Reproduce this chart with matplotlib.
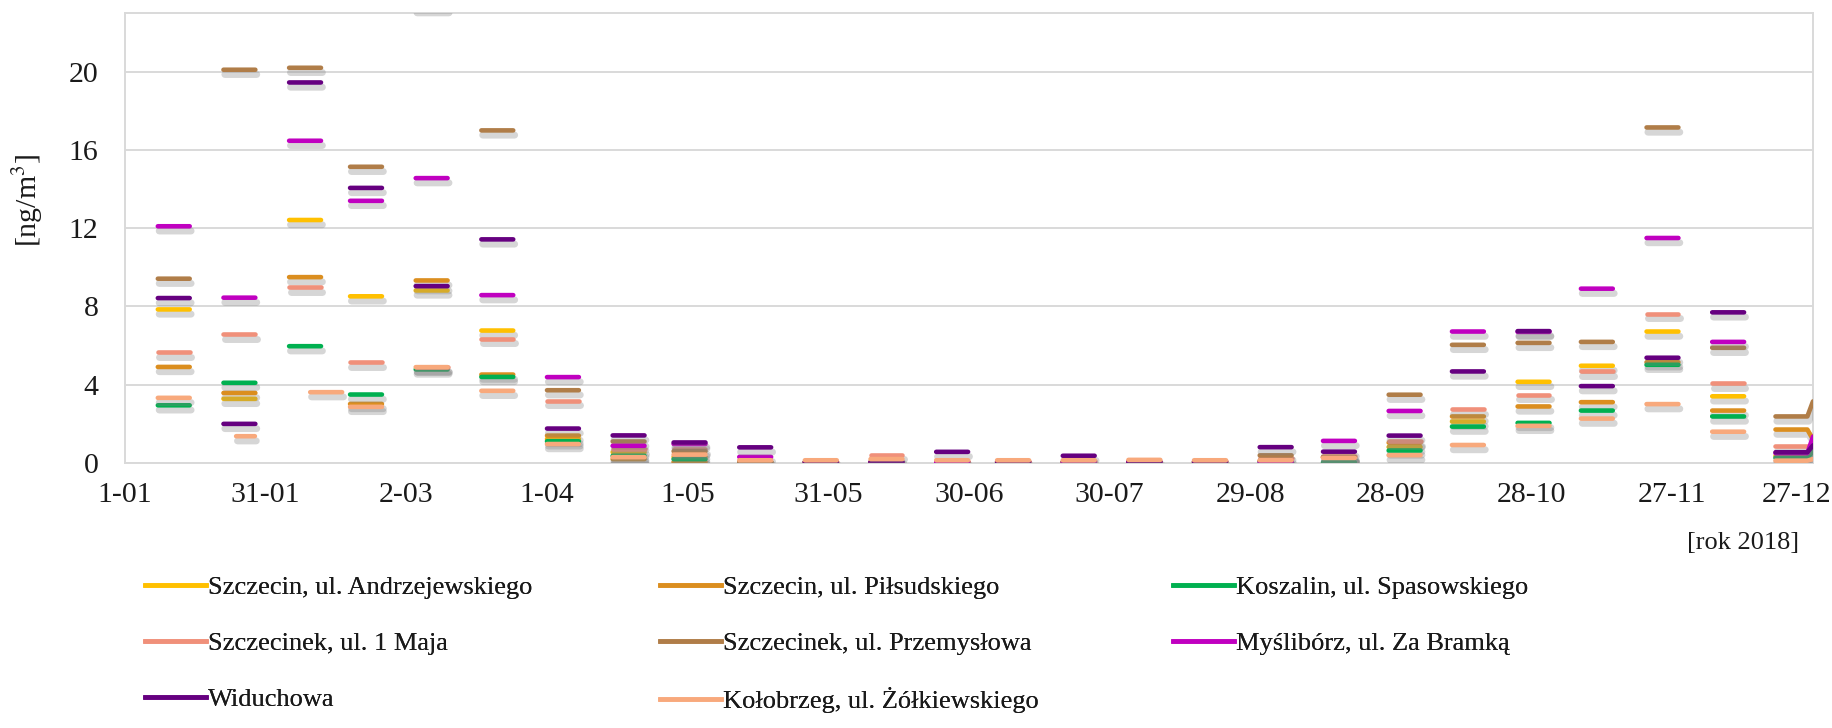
import matplotlib
matplotlib.use('Agg')
import matplotlib.pyplot as plt
import matplotlib.patheffects as pe
import matplotlib.transforms as mtransforms
from matplotlib.lines import Line2D
import numpy as np

plt.rcParams['font.family'] = ['Liberation Serif', 'DejaVu Serif']
plt.rcParams['mathtext.fontset'] = 'stix'

# x axis: days counted from 1 January 2018
tick_days = list(range(0, 361, 30))
tick_labels = ['1-01', '31-01', '2-03', '1-04', '1-05', '31-05', '30-06',
               '30-07', '29-08', '28-09', '28-10', '27-11', '27-12']

# start day of each 7-day sampling period
sample_start = [7, 21, 35, 48, 62, 76, 90, 104, 117, 131, 145, 159, 173,
                186, 200, 214, 228, 242, 255.5, 269.5, 283, 297, 310.5,
                324.5, 338.5, 352]
sample_len = [6.8] * 26
# Kołobrzeg was sampled on slightly different days early in the year
kolobrzeg_start = [7, 23.7, 39.5, 48, 62, 76, 90, 104, 117, 131, 145, 159,
                   173, 186, 200, 214, 228, 242, 255.5, 269.5, 283, 297,
                   310.5, 324.5, 338.5, 352]
kolobrzeg_len = [6.8, 4.0] + [6.8] * 24

names = ['Szczecin, ul. Andrzejewskiego', 'Szczecin, ul. Piłsudskiego',
         'Koszalin, ul. Spasowskiego', 'Szczecinek, ul. 1 Maja',
         'Szczecinek, ul. Przemysłowa', 'Myślibórz, ul. Za Bramką',
         'Widuchowa', 'Kołobrzeg, ul. Żółkiewskiego']
colors = ['#FFC000', '#DB8E1F', '#00B050', '#F0907A',
          '#B07D48', '#C000C0', '#660080', '#F8A97C']

andrzejewskiego = [7.85, 3.28, 12.42, 8.52, 8.82, 6.77, 1.23, 0.55, 0.3, 0.05,
                   0.05, 0.05, 0.05, 0.05, 0.05, 0.05, 0.05, 0.1, 0.3, 0.82,
                   2.12, 4.15, 4.97, 6.72, 3.41, 0.37]
pilsudskiego = [4.91, 3.58, 9.5, 3.02, 9.33, 4.52, 1.4, 0.2, 0.05, 0.05,
                0.05, 0.05, 0.05, 0.05, 0.05, 0.05, 0.05, 0.1, 0.3, 1.04,
                2.38, 2.89, 3.11, 5.15, 2.68, 1.71]
koszalin = [2.95, 4.1, 5.97, 3.5, 4.78, 4.4, 1.11, 0.37, 0.2, 0.03,
            0.03, 0.03, 0.03, 0.03, 0.03, 0.03, 0.03, 0.03, 0.03, 0.64,
            1.86, 2.05, 2.68, 5.02, 2.38, 0.27]
szczecinek_1maja = [5.68, 6.57, 8.98, 5.15, 4.9, 6.35, 3.19, 0.7, 0.7, 0.05,
                    0.05, 0.43, 0.1, 0.1, 0.1, 0.1, 0.1, 0.25, 0.38, 1.1,
                    2.75, 3.5, 4.7, 7.63, 4.08, 0.85]
przemyslowa = [9.42, 20.1, 20.2, 15.14, 23.25, 17.0, 3.72, 1.1, 0.6, 0.05,
               0.05, 0.05, 0.05, 0.05, 0.05, 0.05, 0.05, 0.39, 0.3, 3.49,
               6.04, 6.14, 6.19, 17.15, 5.89, 2.38]
mysliborz = [12.1, 8.45, 16.47, 13.4, 14.56, 8.58, 4.39, 0.88, 0.97, 0.31,
             0.05, 0.03, 0.05, 0.05, 0.05, 0.05, 0.08, 0.05, 1.13, 2.66,
             6.72, 6.7, 8.91, 11.5, 6.19, 0.5]
widuchowa = [8.43, 2.0, 19.45, 14.06, 9.04, 11.43, 1.76, 1.41, 1.05, 0.8,
             0.05, 0.05, 0.57, 0.05, 0.37, 0.05, 0.05, 0.81, 0.58, 1.4,
             4.68, 6.74, 3.93, 5.38, 7.7, 0.55]
kolobrzeg = [3.33, 1.37, 3.62, 2.87, 4.9, 3.69, 0.97, 0.3, 0.43, 0.14,
             0.14, 0.2, 0.14, 0.14, 0.14, 0.16, 0.14, 0.14, 0.26, 0.4,
             0.92, 1.9, 2.27, 3.01, 1.6, 0.12]
# value where each line leaves the plot on 27-12 (start of the next sample)
edge_values = [1.0, 1.2, 0.6, 0.85, 3.15, 1.35, 0.9, 0.2]

all_values = [andrzejewskiego, pilsudskiego, koszalin, szczecinek_1maja,
              przemyslowa, mysliborz, widuchowa, kolobrzeg]


def sample_path(starts, lengths, vals, edge):
    xs, ys = [], []
    for s, l, v in zip(starts, lengths, vals):
        xs += [s, s + l, np.nan]
        ys += [v, v, np.nan]
    # last sample runs on towards the next one, cut by the axis
    xs[-1] = tick_days[-1]
    ys[-1] = edge
    return xs, ys


W, H = 1832, 728
fig = plt.figure(figsize=(W / 100, H / 100), dpi=100)
ax = fig.add_axes([125 / W, 1 - 463 / H, (1813 - 125) / W, (463 - 13) / H])

shadow = [pe.SimpleLineShadow(offset=(1.0, -3.4), shadow_color='#808080',
                              alpha=0.32, linewidth=5.0), pe.Normal()]

for i, (name, col, vals) in enumerate(zip(names, colors, all_values)):
    if i == len(names) - 1:
        xs, ys = sample_path(kolobrzeg_start, kolobrzeg_len, vals, edge_values[i])
    else:
        xs, ys = sample_path(sample_start, sample_len, vals, edge_values[i])
    ax.plot(xs, ys, color=col, lw=3.3, solid_capstyle='round',
            solid_joinstyle='round', path_effects=shadow, zorder=3 + i)

ax.set_xlim(0, 360)
ax.set_ylim(0, 23)
ax.set_xticks(tick_days)
ax.set_xticklabels(tick_labels)
ax.set_yticks(range(0, 21, 4))
ax.yaxis.grid(True, color='#D9D9D9', lw=1.4)
ax.set_axisbelow(True)
for sp in ax.spines.values():
    sp.set_color('#D9D9D9')
    sp.set_linewidth(1.4)
ax.tick_params(axis='both', length=0, labelsize=21.5, colors='#1a1a1a')
ax.tick_params(axis='y', pad=19)
ax.tick_params(axis='x', pad=14)

# the last date label is pulled in so it stays inside the picture
last = ax.get_xticklabels()[-1]
last.set_transform(last.get_transform() +
                   mtransforms.ScaledTranslation(-16 / 100, 0, fig.dpi_scale_trans))

fig.text(28 / W, 1 - 200 / H, '[ng/m$^3$]', rotation=90, ha='center',
         va='center', fontsize=21.5, color='#1a1a1a')
fig.text(1799 / W, 1 - 543 / H, '[rok 2018]', ha='right', va='center',
         fontsize=19, color='#1a1a1a')

# legend: Excel fills it row by row in three fixed-width columns
col_x = [145, 660, 1173]
for c in range(3):
    idx = list(range(c, len(names), 3))
    handles = [Line2D([], [], color=colors[k], lw=3.3) for k in idx]
    leg = fig.legend(handles, [names[k] for k in idx], loc='upper left',
                     bbox_to_anchor=(col_x[c] / W, 1 - 576 / H),
                     frameon=False, fontsize=19, handlelength=2.3,
                     handletextpad=0.1, borderpad=0, borderaxespad=0,
                     labelspacing=1.22, labelcolor='#1a1a1a')
    fig.add_artist(leg)

fig.savefig('out.png', dpi=100)
